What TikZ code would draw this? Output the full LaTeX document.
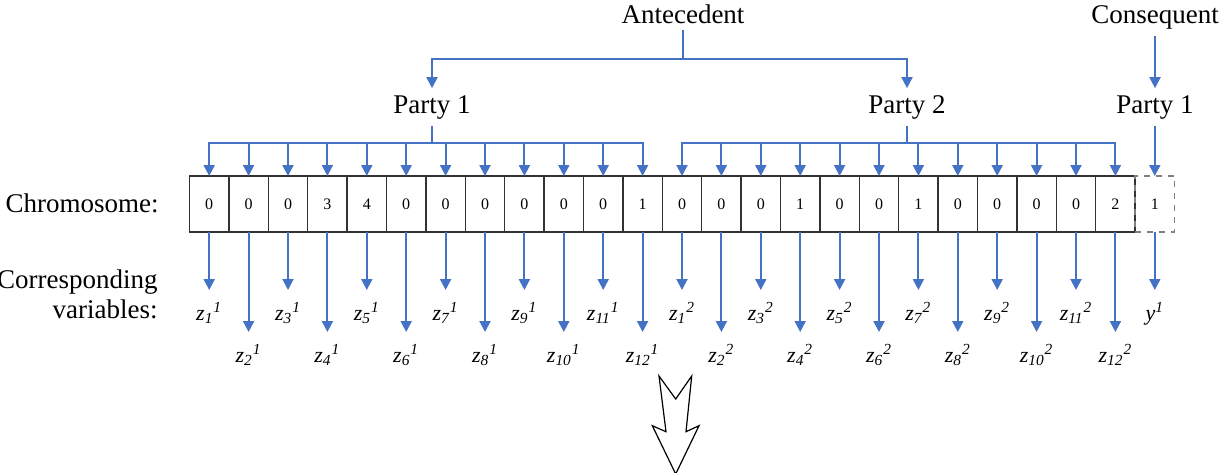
\documentclass[tikz,border=0pt]{standalone}
\usepackage{fontspec}
\setmainfont{Liberation Serif}
\usetikzlibrary{arrows.meta}
\definecolor{ablue}{RGB}{68,114,196}
\definecolor{cellgray}{RGB}{50,50,50}
\begin{document}
\begin{tikzpicture}[x=0.5pt,y=-0.5pt,
  lbl/.style={font=\fontsize{13.5}{15}\selectfont, inner sep=0pt, outer ysep=3.5pt},
  conn/.style={draw=ablue, line width=1pt},
  arr/.style={conn, -{Triangle[width=5.5pt,length=5.5pt]}},
  cell/.style={draw=cellgray, line width=0.7pt, minimum width=19.7pt, minimum height=28pt, inner sep=0pt, outer sep=0pt, font=\fontsize{8}{10}\selectfont},
  var/.style={font=\fontsize{11}{13}\selectfont\itshape, inner sep=0pt, outer ysep=6pt, anchor=north}]
\useasboundingbox (0,0) rectangle (1219,472);

% headers
\node[lbl, anchor=base] (ant) at (683,23) {Antecedent};
\node[lbl, anchor=base] (con) at (1155,23) {Consequent};
\node[lbl, anchor=base] (p1) at (432,113) {Party 1};
\node[lbl, anchor=base] (p2) at (907,113) {Party 2};
\node[lbl, anchor=base] (p3) at (1155,113) {Party 1};

% row labels
\node[lbl, anchor=base east] (chr) at (159,212) {Chromosome:};
\node[lbl, anchor=base east] (corr) at (158,288) {Corresponding};
\node[lbl, anchor=base east] (vars) at (158,318) {variables:};

% cells
\foreach \v [count=\i] in {0,0,0,3,4,0,0,0,0,0,0,1,0,0,0,1,0,0,1,0,0,0,0,2}{
  \node[cell] (c\i) at ({189.5+39.4*(\i-0.5)},204) {\v};
}
\node[cell, draw=gray, dashed] (c25) at ({189.5+39.4*24.5},204) {1};

% antecedent / consequent connectors
\coordinate (ab) at (683,59);
\draw[conn] (ant.south) -- (ab);
\draw[arr] (ab) -| (p1.north);
\draw[arr] (ab) -| (p2.north);
\draw[arr] (con.south) -- (con.south |- p3.north);

% party buses
\coordinate (b1) at (432,143);
\coordinate (b2) at (907,143);
\draw[conn] (p1.south) -- (b1);
\draw[conn] (p2.south) -- (b2);
\foreach \i in {1,...,12}{\draw[arr] (b1) -| (c\i.north);}
\foreach \i in {13,...,24}{\draw[arr] (b2) -| (c\i.north);}
\draw[arr] (c25.north |- p3.south) -- (c25.north);

% variables
\foreach \i in {1,...,24}{
  \pgfmathtruncatemacro\j{mod(\i-1,12)+1}
  \pgfmathtruncatemacro\k{\i>12 ? 2 : 1}
  \pgfmathsetmacro\ye{mod(\i,2)==1 ? 290 : 332}
  \node[var] (v\i) at (c\i.south |- 0,\ye) {z\textsubscript{\j}\textsuperscript{\k}};
  \draw[arr] (c\i.south) -- (v\i.north);
}
\node[var] (v25) at (c25.south |- 0,290) {y\textsuperscript{1}};
\draw[arr] (c25.south) -- (v25.north);

% big outlined arrow
\draw[black, line width=0.6pt, fill=white, line join=miter]
  (659,376) -- (675.7,399) -- (691.7,376) -- (686,431.7) -- (699,425.7)
  -- (675.7,474) -- (652.3,425.7) -- (666,431.7) -- cycle;
\end{tikzpicture}
\end{document}
